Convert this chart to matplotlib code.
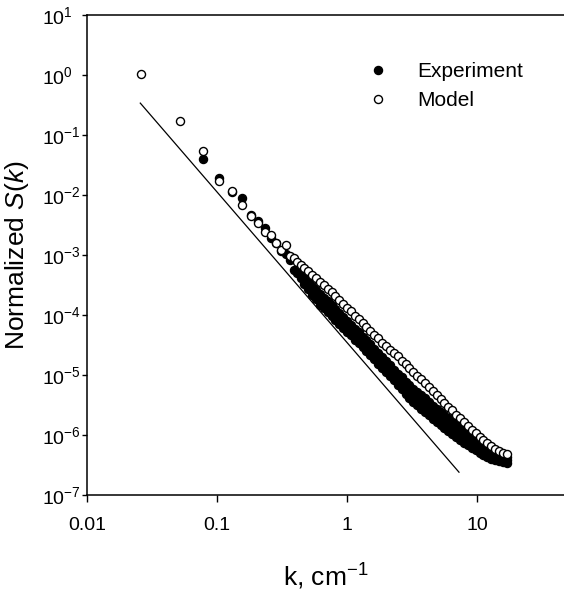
import numpy as np
import matplotlib
matplotlib.use("Agg")
import matplotlib.pyplot as plt
from matplotlib.lines import Line2D

plt.rcParams['font.family'] = ['Liberation Sans', 'DejaVu Sans']
plt.rcParams['mathtext.fontset'] = 'custom'
plt.rcParams['mathtext.rm'] = 'Liberation Sans'
plt.rcParams['mathtext.it'] = 'Liberation Sans:italic'

# low-k points (k in cm^-1, values as log10 S)
k_model_low = [0.026, 0.052, 0.078, 0.104, 0.130, 0.156, 0.182, 0.208, 0.234,
               0.260, 0.286, 0.312, 0.338, 0.364, 0.390, 0.416]
model_low_log10 = [0.02, -0.767, -1.267, -1.767, -1.933, -2.16, -2.35, -2.46, -2.61,
                   -2.66, -2.80, -2.92, -2.83, -3.01, -3.05, -3.11]

k_exp_low = [0.078, 0.104, 0.130, 0.156, 0.182, 0.208, 0.234, 0.260, 0.286,
             0.312, 0.338, 0.364, 0.390, 0.416]
exp_low_log10 = [-1.405, -1.711, -1.95, -2.045, -2.33, -2.433, -2.55, -2.72, -2.80,
                 -2.93, -2.98, -3.08, -3.25, -3.30]

# dense region (points overlap into a band)
k_dense = [0.44, 0.47, 0.50, 0.54, 0.58, 0.62, 0.66, 0.71, 0.76, 0.81, 0.87, 0.93,
           1.0, 1.07, 1.15, 1.23, 1.32, 1.41, 1.51, 1.62, 1.74, 1.86, 2.0, 2.14,
           2.29, 2.45, 2.63, 2.82, 3.02, 3.24, 3.47, 3.72, 3.98, 4.27, 4.57, 4.9,
           5.25, 5.62, 6.03, 6.46, 6.92, 7.41, 7.94, 8.51, 9.12, 9.77, 10.5, 11.2,
           12.0, 12.9, 13.8, 14.8, 15.8, 16.9]
model_dense_log10 = [-3.16, -3.22, -3.26, -3.33, -3.38, -3.45, -3.50, -3.56, -3.62,
                     -3.68, -3.75, -3.81, -3.88, -3.94, -4.01, -4.07, -4.14, -4.20,
                     -4.26, -4.33, -4.39, -4.46, -4.51, -4.58, -4.64, -4.69, -4.76,
                     -4.82, -4.88, -4.95, -5.01, -5.07, -5.13, -5.20, -5.27, -5.33,
                     -5.40, -5.46, -5.53, -5.59, -5.66, -5.72, -5.79, -5.85, -5.91,
                     -5.97, -6.03, -6.08, -6.13, -6.19, -6.23, -6.27, -6.30, -6.32]
# the scattered experimental band: upper edge, middle and lower edge
exp_hi_log10 = [-3.29, -3.37, -3.43, -3.51, -3.58, -3.65, -3.71, -3.77, -3.84,
                -3.90, -3.97, -4.03, -4.10, -4.16, -4.23, -4.29, -4.36, -4.42,
                -4.49, -4.56, -4.63, -4.70, -4.77, -4.84, -4.91, -4.98, -5.04,
                -5.11, -5.17, -5.23, -5.28, -5.34, -5.39, -5.45, -5.51, -5.56,
                -5.62, -5.67, -5.72, -5.76, -5.82, -5.86, -5.91, -5.95, -6.00,
                -6.04, -6.09, -6.13, -6.17, -6.21, -6.26, -6.31, -6.34, -6.36]
exp_mid_log10 = [-3.34, -3.43, -3.50, -3.59, -3.66, -3.74, -3.80, -3.86, -3.93,
                 -3.99, -4.06, -4.12, -4.19, -4.25, -4.32, -4.38, -4.45, -4.51,
                 -4.58, -4.65, -4.72, -4.79, -4.86, -4.93, -5.00, -5.07, -5.14,
                 -5.22, -5.29, -5.36, -5.41, -5.47, -5.52, -5.58, -5.64, -5.69,
                 -5.75, -5.80, -5.85, -5.89, -5.95, -5.99, -6.04, -6.08, -6.13,
                 -6.16, -6.21, -6.24, -6.28, -6.31, -6.34, -6.38, -6.40, -6.42]
exp_lo_log10 = [-3.39, -3.49, -3.57, -3.67, -3.74, -3.83, -3.89, -3.95, -4.02,
                -4.08, -4.15, -4.21, -4.28, -4.34, -4.41, -4.47, -4.54, -4.60,
                -4.67, -4.74, -4.81, -4.88, -4.95, -5.02, -5.09, -5.16, -5.23,
                -5.31, -5.38, -5.45, -5.50, -5.56, -5.61, -5.67, -5.73, -5.78,
                -5.84, -5.89, -5.94, -5.98, -6.04, -6.08, -6.13, -6.17, -6.22,
                -6.25, -6.30, -6.33, -6.37, -6.40, -6.41, -6.44, -6.45, -6.47]

# power-law guide line (slope about -2.5)
fit_k = [0.0257, 7.27]
fit_s = [0.34, 2.4e-7]

x_ticks = [0.01, 0.1, 1, 10]
x_tick_labels = ['0.01', '0.1', '1', '10']
y_exponents = [1, 0, -1, -2, -3, -4, -5, -6, -7]

fig = plt.figure(figsize=(5.64, 5.91), dpi=100)
ax = fig.add_axes([87 / 564, 1 - 495 / 591, 1 - 87 / 564, 480 / 591])

ax.plot(fit_k, fit_s, color='black', lw=0.9, zorder=1)

mk = dict(linestyle='none', marker='o', markersize=5.8, markeredgewidth=1.0,
          markeredgecolor='black')
ax.plot(k_exp_low, 10 ** np.array(exp_low_log10), color='black', zorder=2, **mk)
for band in [exp_hi_log10, exp_mid_log10, exp_lo_log10]:
    ax.plot(k_dense, 10 ** np.array(band), color='black', zorder=2, **mk)
ax.plot(k_model_low, 10 ** np.array(model_low_log10), markerfacecolor='white',
        zorder=3, **mk)
ax.plot(k_dense, 10 ** np.array(model_dense_log10), markerfacecolor='white',
        zorder=3, **mk)

ax.set_xscale('log')
ax.set_yscale('log')
ax.set_xlim(0.01, 46.7)
ax.set_ylim(1e-7, 10)

ax.set_xticks(x_ticks)
ax.set_xticklabels(x_tick_labels)
ax.set_yticks([10.0 ** e for e in y_exponents])
ax.set_yticklabels([r'$\mathregular{10^{%d}}$' % e for e in y_exponents])
ax.minorticks_off()
ax.tick_params(axis='both', labelsize=14, width=1.0, color='black')
ax.tick_params(axis='x', length=5, pad=11)
ax.tick_params(axis='y', length=3.5, pad=29)
plt.setp(ax.get_yticklabels(), ha='left')

for side in ['left', 'bottom', 'top']:
    ax.spines[side].set_linewidth(1.1)
ax.spines['right'].set_visible(False)

ax.set_xlabel(r'k, cm$^{\mathregular{-1}}$', fontsize=19, labelpad=20)
ax.set_ylabel(r'Normalized $\mathit{S}$($\mathit{k}$)', fontsize=19, labelpad=8)

handles = [
    Line2D([], [], linestyle='none', marker='o', markersize=5.8,
           markerfacecolor='black', markeredgecolor='black'),
    Line2D([], [], linestyle='none', marker='o', markersize=5.8,
           markerfacecolor='white', markeredgecolor='black'),
]
ax.legend(handles, ['Experiment', 'Model'], loc='upper left',
          bbox_to_anchor=(0.566, 0.902), frameon=False, fontsize=15,
          borderpad=0, borderaxespad=0, handlelength=2.0, handletextpad=0.9,
          labelspacing=0.5)

fig.savefig('out.png', dpi=100)
